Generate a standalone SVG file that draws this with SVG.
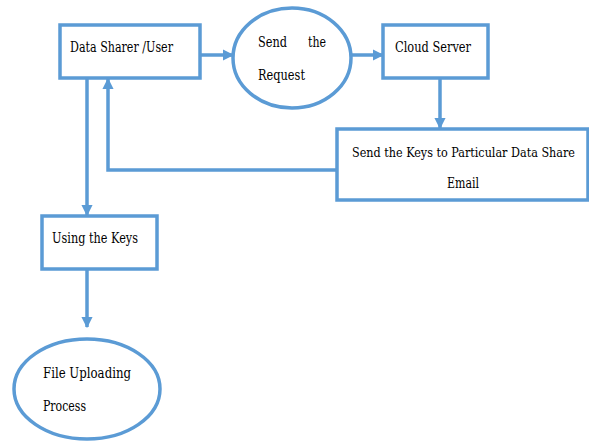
<svg xmlns="http://www.w3.org/2000/svg" width="589" height="441" viewBox="0 0 589 441">
  <style>
    .box { fill: #ffffff; stroke: #5b9bd5; stroke-width: 3.5; }
    .link { fill: none; stroke: #5b9bd5; stroke-width: 3.5; }
    .label { font-family: 'DejaVu Serif', serif; font-size: 15px; fill: #000000; }
    .wide { font-family: 'DejaVu Serif Condensed', 'DejaVu Serif', serif; font-stretch: condensed; font-size: 13px; }
  </style>
  <defs>
    <marker id="arrow" viewBox="0 0 10 10" refX="9" refY="5" markerWidth="3.2" markerHeight="3.2" orient="auto" markerUnits="strokeWidth">
      <path d="M0,0 L10,5 L0,10 Z" fill="#5b9bd5"/>
    </marker>
  </defs>
  <rect width="589" height="441" fill="#ffffff"/>

  <g id="connectors">
    <line class="link" x1="200" y1="55" x2="233" y2="55" marker-end="url(#arrow)"/>
    <line class="link" x1="351" y1="55" x2="383" y2="55" marker-end="url(#arrow)"/>
    <line class="link" x1="440" y1="78" x2="440" y2="128" marker-end="url(#arrow)"/>
    <polyline class="link" points="337,170 108,170 108,79" marker-end="url(#arrow)"/>
    <line class="link" x1="87" y1="78" x2="87" y2="215" marker-end="url(#arrow)"/>
    <line class="link" x1="87" y1="269" x2="87" y2="327" marker-end="url(#arrow)"/>
  </g>

  <g id="data-sharer">
    <rect class="box" x="60" y="25" width="140" height="53"/>
    <text class="label" x="70" y="52" textLength="103" lengthAdjust="spacingAndGlyphs">Data Sharer /User</text>
  </g>

  <g id="send-request">
    <ellipse class="box" cx="292" cy="58" rx="59" ry="50"/>
    <text class="label" x="258" y="47" textLength="29" lengthAdjust="spacingAndGlyphs">Send</text>
    <text class="label" x="308" y="47" textLength="18" lengthAdjust="spacingAndGlyphs">the</text>
    <text class="label" x="258" y="80" textLength="47" lengthAdjust="spacingAndGlyphs">Request</text>
  </g>

  <g id="cloud-server">
    <rect class="box" x="383" y="25" width="105" height="53"/>
    <text class="label" x="395" y="52" textLength="76" lengthAdjust="spacingAndGlyphs">Cloud Server</text>
  </g>

  <g id="send-keys">
    <rect class="box" x="337" y="129" width="251" height="71"/>
    <text class="label wide" x="352" y="157" textLength="223" lengthAdjust="spacingAndGlyphs">Send the Keys to Particular Data Share</text>
    <text class="label" x="447" y="188" textLength="32" lengthAdjust="spacingAndGlyphs">Email</text>
  </g>

  <g id="using-keys">
    <rect class="box" x="42" y="216" width="115" height="53"/>
    <text class="label" x="52" y="243" textLength="86" lengthAdjust="spacingAndGlyphs">Using the Keys</text>
  </g>

  <g id="file-uploading">
    <ellipse class="box" cx="87" cy="389" rx="73" ry="50"/>
    <text class="label" x="43" y="378" textLength="88" lengthAdjust="spacingAndGlyphs">File  Uploading</text>
    <text class="label" x="43" y="411" textLength="43" lengthAdjust="spacingAndGlyphs">Process</text>
  </g>
</svg>
